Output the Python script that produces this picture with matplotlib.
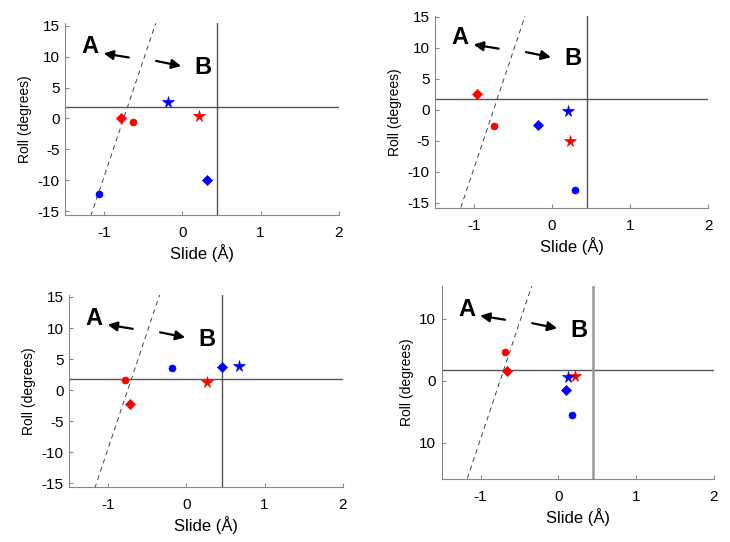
import matplotlib.pyplot as plt

plt.rcParams['font.family'] = ['Liberation Sans', 'DejaVu Sans']

# marker order in every panel: red circle, red diamond, red star, blue circle, blue diamond, blue star
colors = ['red', 'red', 'red', 'blue', 'blue', 'blue']
markers = ['o', 'D', '*', 'o', 'D', '*']

slide_1 = [-0.63, -0.78, 0.22, -1.06, 0.31, -0.18]
roll_1 = [-0.5, 0.0, 0.45, -12.3, -10.0, 2.7]

slide_2 = [-0.745, -0.96, 0.23, 0.29, -0.18, 0.20]
roll_2 = [-2.6, 2.5, -5.1, -12.95, -2.5, -0.2]

slide_3 = [-0.78, -0.72, 0.26, -0.18, 0.45, 0.68]
roll_3 = [1.64, -2.2, 1.3, 3.55, 3.7, 3.9]

slide_4 = [-0.69, -0.66, 0.21, 0.18, 0.10, 0.12]
roll_4 = [4.6, 1.56, 0.7, -5.6, -1.45, 0.6]

# dividing lines
h_line = 1.8
v_line = 0.45
dash_x = [-1.17, -0.34]
dash_y = [-15.8, 15.4]

ylims = [(-15.65, 15.4), (-15.9, 15.1), (-15.6, 15.3), (-15.9, 15.3)]
yticks = [[-15, -10, -5, 0, 5, 10, 15]] * 3 + [[-10, 0, 10]]
yticklabels = [['-15', '-10', '-5', '0', '5', '10', '15']] * 3 + [['10', '0', '10']]
xticks = [-1, 0, 1, 2]

positions = [[0.089, 0.603, 0.375, 0.354],
             [0.596, 0.616, 0.374, 0.354],
             [0.0945, 0.1015, 0.375, 0.354],
             [0.605, 0.116, 0.373, 0.356]]

fig = plt.figure(figsize=(7.3, 5.42), dpi=100)

data = [(slide_1, roll_1), (slide_2, roll_2), (slide_3, roll_3), (slide_4, roll_4)]
for k, (xs, ys) in enumerate(data):
    ax = fig.add_axes(positions[k])
    ax.set_xlim(-1.5, 2)
    ax.set_ylim(*ylims[k])

    ax.plot(dash_x, dash_y, ls=(0, (5, 4)), color='#444444', lw=0.7)
    ax.axhline(h_line, color='#555555', lw=1.0)
    vcol, vlw = ('#999999', 1.8) if k == 3 else ('#555555', 1.0)
    ax.axvline(v_line, color=vcol, lw=vlw)

    for x, y, c, m in zip(xs, ys, colors, markers):
        size = {'o': 5.0, 'D': 5.6, '*': 8.5}[m]
        ax.plot(x, y, marker=m, color=c, markersize=size, ls='none',
                markeredgewidth=0.5)

    ax.annotate('', xy=(-1.04, 10.6), xytext=(-0.65, 9.8),
                arrowprops=dict(arrowstyle='-|>', color='black', lw=1.6, mutation_scale=14))
    ax.annotate('', xy=(0.02, 8.4), xytext=(-0.37, 9.4),
                arrowprops=dict(arrowstyle='-|>', color='black', lw=1.6, mutation_scale=14))
    ax.text(-1.18, 11.6, 'A', fontsize=17, fontweight='bold', ha='center', va='center')
    ax.text(0.27, 8.2, 'B', fontsize=17, fontweight='bold', ha='center', va='center')

    for side in ['top', 'right']:
        ax.spines[side].set_visible(False)
    for side in ['left', 'bottom']:
        ax.spines[side].set_color('#888888')
    ax.tick_params(direction='in', length=3, color='#888888', labelsize=11)
    ax.tick_params(axis='x', pad=8)
    ax.tick_params(axis='y', pad=4)
    ax.set_xticks(xticks)
    ax.set_xticklabels([str(t) for t in xticks])
    ax.set_yticks(yticks[k])
    ax.set_yticklabels(yticklabels[k])
    ax.set_xlabel('Slide (Å)', fontsize=12, labelpad=3)
    ax.set_ylabel('Roll (degrees)', fontsize=10, labelpad=4)

fig.savefig('out.png', dpi=100)
